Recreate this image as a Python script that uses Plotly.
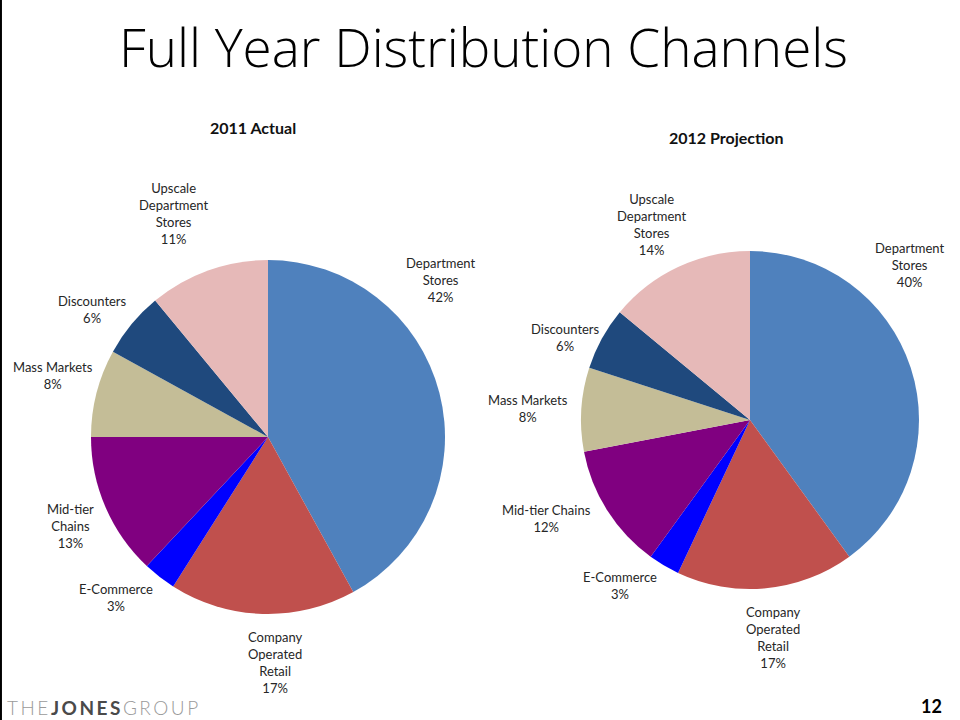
import plotly.graph_objects as go

channels = ["Department Stores", "Company Operated Retail", "E-Commerce",
            "Mid-tier Chains", "Mass Markets", "Discounters",
            "Upscale Department Stores"]
share_2011 = [42, 17, 3, 13, 8, 6, 11]
share_2012 = [40, 17, 3, 12, 8, 6, 14]
colors = ["#4F81BD", "#C0504D", "#0000FF", "#800080", "#C4BD97", "#1F497D", "#E6B9B8"]

labels_2011 = ["Department<br>Stores", "Company<br>Operated<br>Retail", "E-Commerce",
               "Mid-tier<br>Chains", "Mass Markets", "Discounters",
               "Upscale<br>Department<br>Stores"]
labels_2012 = ["Department<br>Stores", "Company<br>Operated<br>Retail", "E-Commerce",
               "Mid-tier Chains", "Mass Markets", "Discounters",
               "Upscale<br>Department<br>Stores"]

W, H = 960, 720
FONT = "Lato"

# label anchor positions (pixels, centre of text block)
pos_2011 = [(441, 280), (275, 662), (116, 597), (70, 526), (53, 375), (92, 309), (174, 213)]
pos_2012 = [(910, 265), (773, 637), (620, 585), (546, 518), (528, 408), (565, 337), (652, 224)]


def dom(cx, cy, r):
    return dict(x=[(cx - r) / W, (cx + r) / W], y=[(H - cy - r) / H, (H - cy + r) / H])


fig = go.Figure()
for vals, d, name in [(share_2011, dom(268, 437, 177), "2011 Actual"),
                      (share_2012, dom(750, 420, 169), "2012 Projection")]:
    fig.add_trace(go.Pie(
        labels=channels, values=vals, sort=False, direction="clockwise",
        rotation=0, marker=dict(colors=colors, line=dict(width=0)),
        textinfo="none", hoverinfo="label+percent", domain=d, name=name,
        showlegend=False))

ann = []
for labs, vals, pos in [(labels_2011, share_2011, pos_2011), (labels_2012, share_2012, pos_2012)]:
    for lab, v, (x, y) in zip(labs, vals, pos):
        ann.append(dict(x=x / W, y=1 - y / H, xref="paper", yref="paper",
                        text=f"{lab}<br>{v}%", showarrow=False, align="center",
                        xanchor="center", yanchor="middle",
                        font=dict(family=FONT, size=13, color="#262626")))

ann += [
    dict(x=483 / W, y=1 - 46 / H, xref="paper", yref="paper", text="Full Year Distribution Channels",
         showarrow=False, xanchor="center", yanchor="middle",
         font=dict(family="Open Sans", size=53, color="#000000", weight=300)),
    dict(x=253 / W, y=1 - 127 / H, xref="paper", yref="paper", text="<b>2011 Actual</b>",
         showarrow=False, xanchor="center", yanchor="middle",
         font=dict(family=FONT, size=16, color="#111111")),
    dict(x=726 / W, y=1 - 137 / H, xref="paper", yref="paper", text="<b>2012 Projection</b>",
         showarrow=False, xanchor="center", yanchor="middle",
         font=dict(family=FONT, size=16, color="#111111")),
    dict(x=5 / W, y=1 - 707 / H, xref="paper", yref="paper",
         text="<span style='letter-spacing:2.5px;fill:#9a9a9a'>THE</span>"
              "<span style='letter-spacing:2.5px;fill:#4a4a4a;font-weight:700'>JONES</span>"
              "<span style='letter-spacing:2.5px;fill:#9a9a9a'>GROUP</span>",
         showarrow=False, xanchor="left", yanchor="middle",
         font=dict(family=FONT, size=19, color="#9a9a9a", weight=300)),
    dict(x=944 / W, y=1 - 706 / H, xref="paper", yref="paper", text="<b>12</b>",
         showarrow=False, xanchor="right", yanchor="middle",
         font=dict(family=FONT, size=18, color="#000000")),
]

fig.update_layout(
    width=W, height=H, margin=dict(l=0, r=0, t=0, b=0),
    paper_bgcolor="white", plot_bgcolor="white",
    annotations=ann,
    shapes=[dict(type="line", xref="paper", yref="paper", x0=0.001, x1=0.001, y0=0, y1=1,
                 line=dict(color="black", width=2))],
)

fig.write_html("out.html", config={"displayModeBar": False},
               post_script="document.body.style.margin='0';")
